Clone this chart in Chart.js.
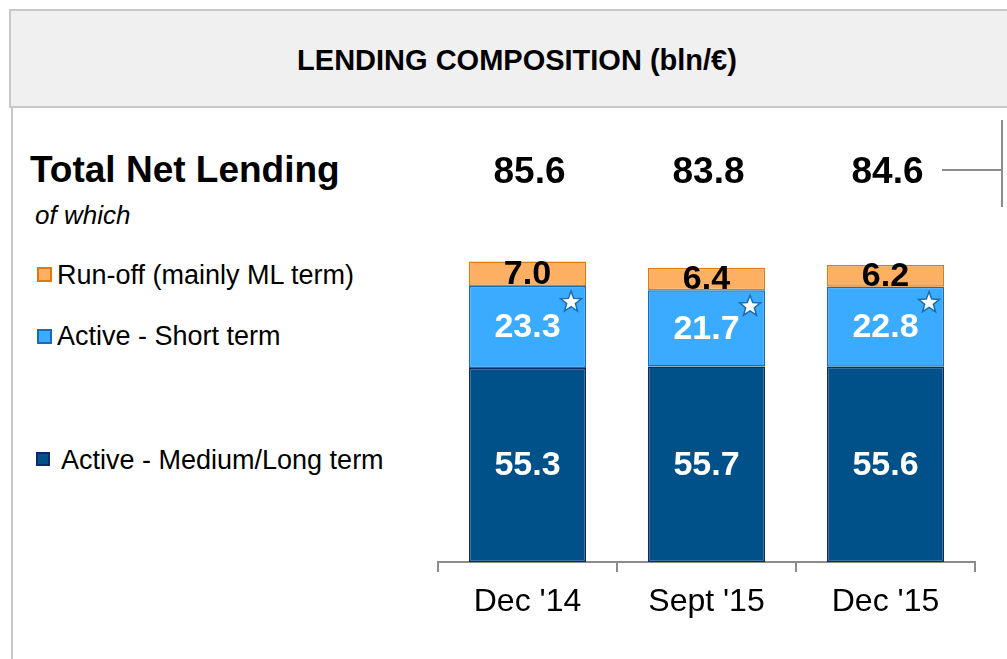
<!DOCTYPE html>
<html>
<head>
<meta charset="utf-8">
<script src="https://cdn.jsdelivr.net/npm/chart.js@4.4.1/dist/chart.umd.min.js"></script>
<style>
  html, body { margin: 0; padding: 0; background: #fff; width: 1007px; height: 659px; overflow: hidden;
               font-family: "Liberation Sans", Arial, sans-serif; color: #000; }
  #wrap { position: relative; width: 1007px; height: 659px; }
  #chart { position: absolute; left: 0; top: 0; }
  .abs { position: absolute; line-height: 1; white-space: nowrap; }
  .header { position: absolute; left: 9px; top: 9px; width: 1020px; height: 99px; box-sizing: border-box;
            background: #f0f0f0; border: 2px solid #c8c8c8; }
  .title { left: 0; width: 1034px; top: 46px; text-align: center; font-weight: bold; font-size: 29px; }
  .vline-left { position: absolute; left: 11px; top: 108px; width: 2px; height: 551px; background: #c8c8c8; }
  .heading { left: 30px; top: 151px; font-weight: bold; font-size: 37px; }
  .sub { left: 35px; top: 202px; font-style: italic; font-size: 26px; }
  .leg { font-size: 27px; }
  .box { position: absolute; box-sizing: border-box; border: 2px solid; }
  .bracket { position: absolute; background: #8c8c8c; }
</style>
</head>
<body>
<div id="wrap">
  <div class="header"></div>
  <div class="abs title">LENDING COMPOSITION (bln/€)</div>
  <div class="vline-left"></div>
  <div class="abs heading">Total Net Lending</div>
  <div class="abs sub">of which</div>

  <div class="box" style="left:37px;top:267px;width:15px;height:15px;background:#fdb062;border-color:#e07a10"></div>
  <div class="abs leg" style="left:57px;top:262px">Run-off (mainly ML term)</div>
  <div class="box" style="left:37px;top:329px;width:15px;height:15px;background:#3aabff;border-color:#1a6bb0"></div>
  <div class="abs leg" style="left:57px;top:323px">Active - Short term</div>
  <div class="box" style="left:36px;top:452px;width:14px;height:14px;background:#005189;border-color:#0a2a6a"></div>
  <div class="abs leg" style="left:61px;top:447px">Active - Medium/Long term</div>

  <div class="bracket" style="left:942px;top:169px;width:60px;height:2px"></div>
  <div class="bracket" style="left:1001px;top:120px;width:2px;height:87px"></div>

  <canvas id="chart" width="1007" height="659"></canvas>
</div>
<script>
// ── DATA ───────────────────────────────────────────────────────────────────
const CATEGORIES  = ["Dec '14", "Sept '15", "Dec '15"];
const MEDIUM_LONG = [55.3, 55.7, 55.6];
const SHORT_TERM  = [23.3, 21.7, 22.8];
const RUN_OFF     = [7.0, 6.4, 6.2];
const TOTALS      = [85.6, 83.8, 84.6];

const FONT = '"Liberation Sans", Arial, sans-serif';

// ── HELPERS ────────────────────────────────────────────────────────────────
function drawStar(ctx, cx, cy, outer, inner) {
  ctx.beginPath();
  for (let k = 0; k < 10; k++) {
    const r = k % 2 === 0 ? outer : inner;
    const a = -Math.PI / 2 + k * Math.PI / 5;
    const px = cx + r * Math.cos(a), py = cy + r * Math.sin(a);
    k === 0 ? ctx.moveTo(px, py) : ctx.lineTo(px, py);
  }
  ctx.closePath();
  ctx.fillStyle = '#fff';
  ctx.fill();
  ctx.strokeStyle = '#1a6bb0';
  ctx.lineWidth = 1.5;
  ctx.stroke();
}

// values inside segments, stars, and the totals row
const labelPlugin = {
  id: 'segmentLabels',
  afterDatasetsDraw(chart) {
    const ctx = chart.ctx;
    ctx.save();
    ctx.textAlign = 'center';
    ctx.textBaseline = 'middle';
    ctx.font = `bold 34px ${FONT}`;
    chart.data.datasets.forEach((ds, di) => {
      chart.getDatasetMeta(di).data.forEach((bar, i) => {
        ctx.fillStyle = ds.labelColor;
        ctx.fillText(ds.data[i].toFixed(1), bar.x, (bar.y + bar.base) / 2 + 1);
      });
    });

    chart.getDatasetMeta(1).data.forEach(bar => {
      drawStar(ctx, bar.x + bar.width / 2 - 15, bar.y + 16, 11, 4.6);
    });

    ctx.font = `bold 37px ${FONT}`;
    ctx.fillStyle = '#000';
    TOTALS.forEach((t, i) => {
      ctx.fillText(t.toFixed(1), chart.scales.x.getPixelForValue(i) + 2, 173);
    });
    ctx.restore();
  }
};

// ── CHART ──────────────────────────────────────────────────────────────────
const common = { barPercentage: 0.654, categoryPercentage: 1.0, borderWidth: 1.5, borderSkipped: false };

new Chart(document.getElementById('chart').getContext('2d'), {
  type: 'bar',
  data: {
    labels: CATEGORIES,
    datasets: [
      { ...common, label: 'Active - Medium/Long term', data: MEDIUM_LONG,
        backgroundColor: '#005189', borderColor: '#0a2a6a', labelColor: '#fff' },
      { ...common, label: 'Active - Short term', data: SHORT_TERM,
        backgroundColor: '#3aabff', borderColor: '#1a6bb0', labelColor: '#fff' },
      { ...common, label: 'Run-off (mainly ML term)', data: RUN_OFF,
        backgroundColor: '#fdb062', borderColor: '#e07a10', labelColor: '#000' },
    ],
  },
  options: {
    responsive: false,
    animation: false,
    layout: { padding: { left: 438, right: 32, top: 211, bottom: 0 } },
    plugins: { legend: { display: false }, tooltip: { enabled: false } },
    scales: {
      x: {
        stacked: true,
        offset: true,
        grid: { offset: true, drawOnChartArea: false, drawTicks: true, tickLength: 10,
                color: '#8c8c8c', lineWidth: 2 },
        border: { display: true, color: '#8c8c8c', width: 2 },
        ticks: { color: '#000', padding: 11, font: { family: FONT, size: 32 } },
        afterFit: s => { s.height = 97; },
      },
      y: { stacked: true, min: 0, max: 100, display: false },
    },
  },
  plugins: [labelPlugin],
});
</script>
</body>
</html>
